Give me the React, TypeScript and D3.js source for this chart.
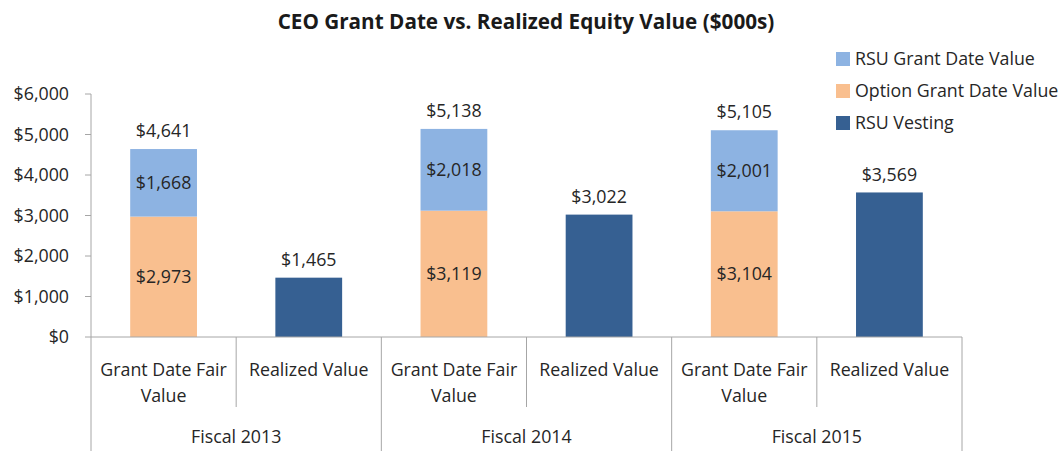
import React from 'react';
import { scaleBand, scaleLinear, format } from 'd3';

// values in $000s
const fiscalYears = ['Fiscal 2013', 'Fiscal 2014', 'Fiscal 2015'];
const barTypes = ['Grant Date Fair Value', 'Realized Value'];
const optionGrant = [2973, 3119, 3104];
const rsuGrant = [1668, 2018, 2001];
const rsuVesting = [1465, 3022, 3569];
const grantTotals = [4641, 5138, 5105];
const yTicks = [0, 1000, 2000, 3000, 4000, 5000, 6000];
const legendItems = [
  { label: 'RSU Grant Date Value', color: '#8DB3E2' },
  { label: 'Option Grant Date Value', color: '#F9BF8F' },
  { label: 'RSU Vesting', color: '#366092' },
];

const W = 1062;
const H = 451;
const left = 91;
const right = 962;
const top = 94;
const bottom = 337;
const font = '"Open Sans", Lato, sans-serif';
const fs = 17.8;
const textColor = '#262626';
const lineColor = '#A6A6A6';

const money = (v: number) => '$' + format(',')(v);

export default function App() {
  const slots = fiscalYears.flatMap((fy) => barTypes.map((t) => fy + '|' + t));
  const x = scaleBand<string>().domain(slots).range([left, right]).paddingInner(0.54).paddingOuter(0.27);
  const y = scaleLinear().domain([0, 6000]).range([bottom, top]);
  const step = x.step();
  const bw = x.bandwidth();

  return (
    <svg width={W} height={H} style={{ position: 'absolute', left: 0, top: 0, fontFamily: font }}>
      <rect width={W} height={H} fill="#fff" />
      <text x={526} y={29} textAnchor="middle" fontSize={20.7} fontWeight="bold" fill="#1a1a1a">
        CEO Grant Date vs. Realized Equity Value ($000s)
      </text>

      {/* legend */}
      {legendItems.map((d, i) => (
        <g key={d.label} transform={`translate(836, ${59 + i * 32})`}>
          <rect x={0} y={-7} width={14} height={14} fill={d.color} />
          <text x={19} y={0} dy="0.35em" fontSize={fs} fill={textColor}>{d.label}</text>
        </g>
      ))}

      {/* y axis */}
      <line x1={left} x2={left} y1={top} y2={bottom} stroke={lineColor} />
      {yTicks.map((t) => (
        <g key={t}>
          <line x1={left - 6} x2={left} y1={y(t)} y2={y(t)} stroke={lineColor} />
          <text x={69} y={y(t)} dy="0.35em" textAnchor="end" fontSize={fs} fill={textColor}>{money(t)}</text>
        </g>
      ))}

      {/* bars */}
      {fiscalYears.map((fy, i) => {
        const gx = x(fy + '|' + barTypes[0])!;
        const rx = x(fy + '|' + barTypes[1])!;
        return (
          <g key={fy}>
            <rect x={gx} width={bw} y={y(optionGrant[i])} height={y(0) - y(optionGrant[i])} fill={legendItems[1].color} />
            <rect x={gx} width={bw} y={y(grantTotals[i])} height={y(optionGrant[i]) - y(grantTotals[i])} fill={legendItems[0].color} />
            <rect x={rx} width={bw} y={y(rsuVesting[i])} height={y(0) - y(rsuVesting[i])} fill={legendItems[2].color} />
            <text x={gx + bw / 2} y={y(optionGrant[i] / 2)} dy="0.35em" textAnchor="middle" fontSize={fs} fill={textColor}>{money(optionGrant[i])}</text>
            <text x={gx + bw / 2} y={y(optionGrant[i] + rsuGrant[i] / 2)} dy="0.35em" textAnchor="middle" fontSize={fs} fill={textColor}>{money(rsuGrant[i])}</text>
            <text x={gx + bw / 2} y={y(grantTotals[i]) - 18} dy="0.35em" textAnchor="middle" fontSize={fs} fill={textColor}>{money(grantTotals[i])}</text>
            <text x={rx + bw / 2} y={y(rsuVesting[i]) - 18} dy="0.35em" textAnchor="middle" fontSize={fs} fill={textColor}>{money(rsuVesting[i])}</text>
          </g>
        );
      })}

      {/* category axis, two levels */}
      <line x1={left} x2={right} y1={bottom} y2={bottom} stroke={lineColor} />
      {fiscalYears.map((fy, i) => {
        const g0 = x(fy + '|' + barTypes[0])! - (step - bw) / 2;
        const mid = g0 + step;
        return (
          <g key={fy}>
            <line x1={g0} x2={g0} y1={bottom} y2={H} stroke={lineColor} />
            <line x1={mid} x2={mid} y1={bottom} y2={407} stroke={lineColor} />
            <text x={g0 + step / 2} y={370} dy="0.35em" textAnchor="middle" fontSize={fs} fill={textColor}>Grant Date Fair</text>
            <text x={g0 + step / 2} y={396} dy="0.35em" textAnchor="middle" fontSize={fs} fill={textColor}>Value</text>
            <text x={mid + step / 2} y={370} dy="0.35em" textAnchor="middle" fontSize={fs} fill={textColor}>{barTypes[1]}</text>
            <text x={mid} y={437} dy="0.35em" textAnchor="middle" fontSize={fs} fill={textColor}>{fy}</text>
          </g>
        );
      })}
      <line x1={right} x2={right} y1={bottom} y2={H} stroke={lineColor} />
    </svg>
  );
}
